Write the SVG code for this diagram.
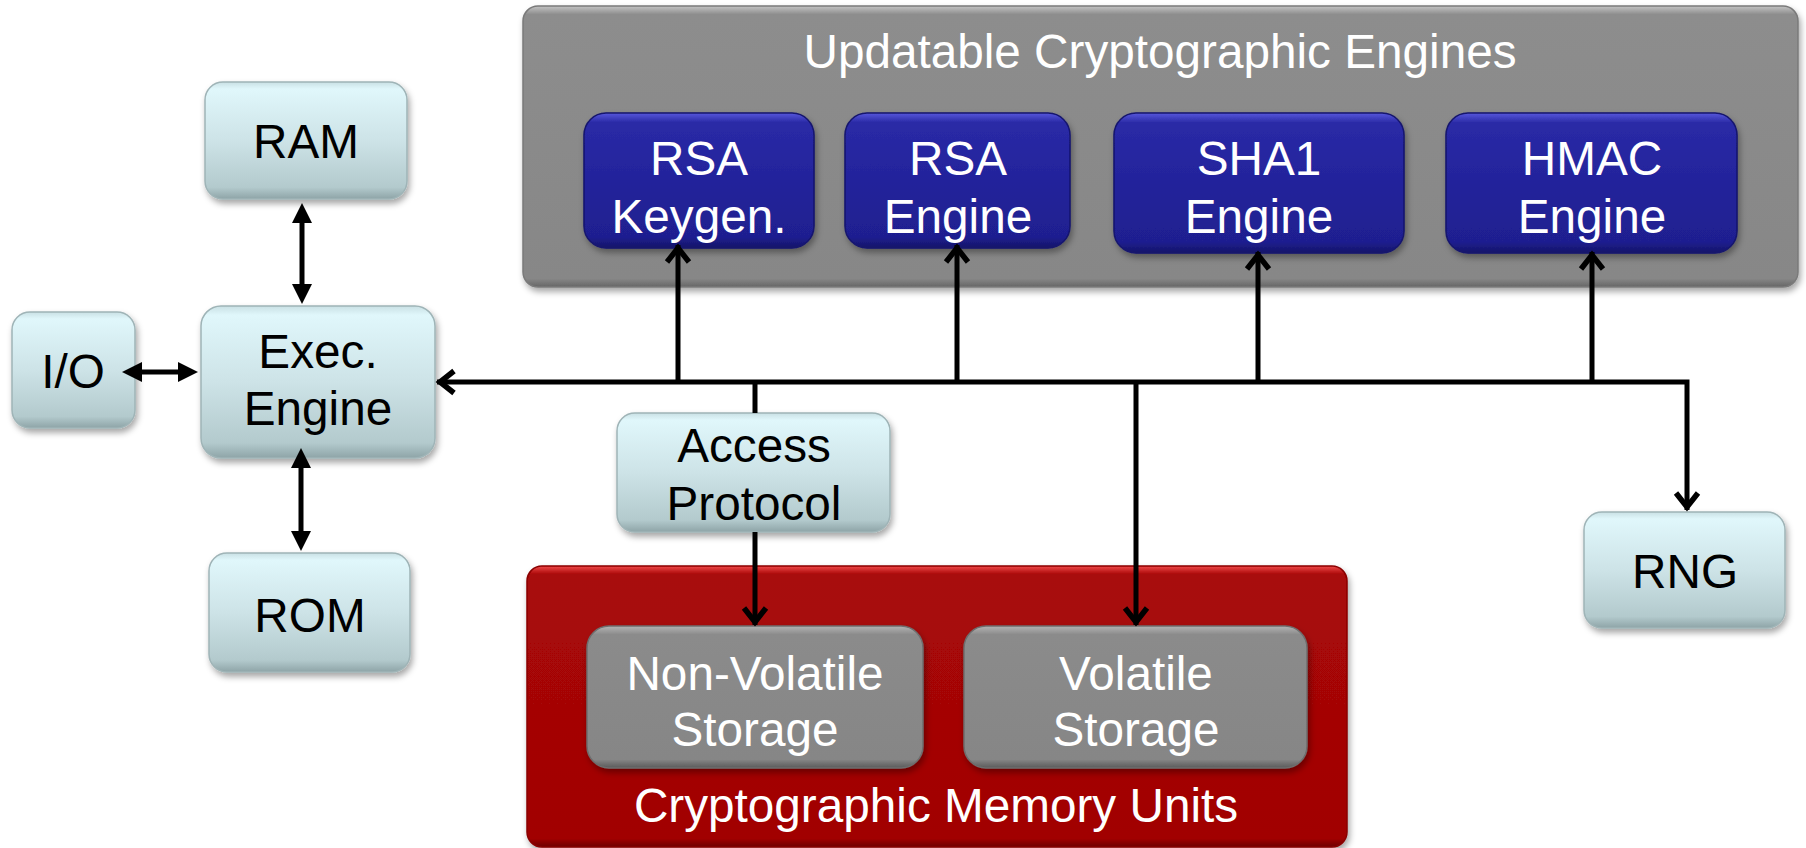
<svg xmlns="http://www.w3.org/2000/svg" width="1806" height="848" viewBox="0 0 1806 848">
<defs>
  <linearGradient id="gBlue" x1="0" y1="0" x2="0" y2="1">
    <stop offset="0" stop-color="#c9e0e4"/>
    <stop offset="0.06" stop-color="#e0f7fb"/>
    <stop offset="0.5" stop-color="#cde3e7"/>
    <stop offset="0.9" stop-color="#b3cacd"/>
    <stop offset="1" stop-color="#8ea4a7"/>
  </linearGradient>
  <linearGradient id="gNavy" x1="0" y1="0" x2="0" y2="1">
    <stop offset="0" stop-color="#5858dc"/>
    <stop offset="0.07" stop-color="#2a2aa6"/>
    <stop offset="0.5" stop-color="#23239b"/>
    <stop offset="0.92" stop-color="#1f1f90"/>
    <stop offset="1" stop-color="#141468"/>
  </linearGradient>
  <linearGradient id="gGray" x1="0" y1="0" x2="0" y2="1">
    <stop offset="0" stop-color="#c4c4c4"/>
    <stop offset="0.03" stop-color="#8d8d8d"/>
    <stop offset="0.97" stop-color="#878787"/>
    <stop offset="1" stop-color="#666666"/>
  </linearGradient>
  <linearGradient id="gStore" x1="0" y1="0" x2="0" y2="1">
    <stop offset="0" stop-color="#b4b4b4"/>
    <stop offset="0.06" stop-color="#8b8b8b"/>
    <stop offset="0.94" stop-color="#868686"/>
    <stop offset="1" stop-color="#5a5a5a"/>
  </linearGradient>
  <linearGradient id="gRed" x1="0" y1="0" x2="0" y2="1">
    <stop offset="0" stop-color="#f04a4a"/>
    <stop offset="0.03" stop-color="#a80808"/>
    <stop offset="0.97" stop-color="#a10404"/>
    <stop offset="1" stop-color="#6c0000"/>
  </linearGradient>
  <filter id="shadow" x="-10%" y="-10%" width="120%" height="130%">
    <feDropShadow dx="2" dy="4" stdDeviation="3" flood-color="#000" flood-opacity="0.35"/>
  </filter>
  <marker id="tri" markerUnits="userSpaceOnUse" viewBox="0 0 20 20" markerWidth="20" markerHeight="20" refX="12" refY="10" orient="auto-start-reverse">
    <path d="M0,0 L20,10 L0,20 z" fill="#000"/>
  </marker>
  <marker id="chev" markerUnits="userSpaceOnUse" viewBox="-20 -16 40 32" markerWidth="40" markerHeight="32" refX="0" refY="0" orient="auto-start-reverse" overflow="visible">
    <path d="M-17,-11 L-3,0 L-17,11" fill="none" stroke="#000" stroke-width="5.5" stroke-linejoin="miter"/>
  </marker>
  <style>
    .lb { fill: url(#gBlue); stroke: #9fb4b7; stroke-width: 1.5; filter: url(#shadow); }
    .nv { fill: url(#gNavy); stroke: #16166e; stroke-width: 1.5; filter: url(#shadow); }
    .gc { fill: url(#gGray); stroke: #7a7a7a; stroke-width: 1.5; filter: url(#shadow); }
    .st { fill: url(#gStore); stroke: #6e6e6e; stroke-width: 1.5; filter: url(#shadow); }
    .rc { fill: url(#gRed); stroke: #8a0000; stroke-width: 1.5; filter: url(#shadow); }
    text { font-family: "Liberation Sans", Arial, sans-serif; font-size: 47.7px; text-anchor: middle; }
    .dk { fill: #000; }
    .wt { fill: #fff; }
    .ln { fill: none; stroke: #000; stroke-width: 5; stroke-linejoin: miter; }
  </style>
</defs>
<rect width="1806" height="848" fill="#fff"/>

<g id="engines-container">
  <rect class="gc" x="523" y="6" width="1275" height="281" rx="15"/>
  <text class="wt" x="1160" y="68">Updatable Cryptographic Engines</text>
</g>
<g id="rsa-keygen">
  <rect class="nv" x="584" y="113" width="230" height="135" rx="22"/>
  <text class="wt" x="699" y="175">RSA</text>
  <text class="wt" x="699" y="233">Keygen.</text>
</g>
<g id="rsa-engine">
  <rect class="nv" x="845" y="113" width="225" height="135" rx="22"/>
  <text class="wt" x="958" y="175">RSA</text>
  <text class="wt" x="958" y="233">Engine</text>
</g>
<g id="sha1-engine">
  <rect class="nv" x="1114" y="113" width="290" height="140" rx="22"/>
  <text class="wt" x="1259" y="175">SHA1</text>
  <text class="wt" x="1259" y="233">Engine</text>
</g>
<g id="hmac-engine">
  <rect class="nv" x="1446" y="113" width="291" height="140" rx="22"/>
  <text class="wt" x="1592" y="175">HMAC</text>
  <text class="wt" x="1592" y="233">Engine</text>
</g>

<g id="memory-container">
  <rect class="rc" x="527" y="566" width="820" height="281" rx="15"/>
  <text class="wt" x="936" y="822">Cryptographic Memory Units</text>
</g>
<g id="nonvolatile-storage">
  <rect class="st" x="587" y="626" width="336" height="142" rx="22"/>
  <text class="wt" x="755" y="690">Non-Volatile</text>
  <text class="wt" x="755" y="746">Storage</text>
</g>
<g id="volatile-storage">
  <rect class="st" x="964" y="626" width="343" height="142" rx="22"/>
  <text class="wt" x="1136" y="690">Volatile</text>
  <text class="wt" x="1136" y="746">Storage</text>
</g>

<g id="ram">
  <rect class="lb" x="205" y="82" width="202" height="117" rx="18"/>
  <text class="dk" x="306" y="158">RAM</text>
</g>
<g id="exec-engine">
  <rect class="lb" x="201" y="306" width="234" height="152" rx="20"/>
  <text class="dk" x="318" y="368">Exec.</text>
  <text class="dk" x="318" y="425">Engine</text>
</g>
<g id="io">
  <rect class="lb" x="12" y="312" width="123" height="116" rx="18"/>
  <text class="dk" x="73" y="388">I/O</text>
</g>
<g id="rom">
  <rect class="lb" x="209" y="553" width="201" height="119" rx="18"/>
  <text class="dk" x="310" y="632">ROM</text>
</g>
<g id="access-protocol">
  <rect class="lb" x="617" y="413" width="273" height="119" rx="18"/>
  <text class="dk" x="754" y="462">Access</text>
  <text class="dk" x="754" y="520">Protocol</text>
</g>
<g id="rng">
  <rect class="lb" x="1584" y="512" width="201" height="116" rx="18"/>
  <text class="dk" x="1685" y="588">RNG</text>
</g>

<g id="connectors">
  <line class="ln" x1="302" y1="211" x2="302" y2="296" marker-start="url(#tri)" marker-end="url(#tri)"/>
  <line class="ln" x1="130" y1="372" x2="190" y2="372" marker-start="url(#tri)" marker-end="url(#tri)"/>
  <line class="ln" x1="301" y1="456" x2="301" y2="543" marker-start="url(#tri)" marker-end="url(#tri)"/>
  <path class="ln" d="M437,382 H1687 V510" marker-start="url(#chev)" marker-end="url(#chev)"/>
  <path class="ln" d="M678,382 V245" marker-end="url(#chev)"/>
  <path class="ln" d="M957,382 V245" marker-end="url(#chev)"/>
  <path class="ln" d="M1258,382 V252" marker-end="url(#chev)"/>
  <path class="ln" d="M1592,382 V252" marker-end="url(#chev)"/>
  <path class="ln" d="M755,382 V413"/>
  <path class="ln" d="M755,532 V625" marker-end="url(#chev)"/>
  <path class="ln" d="M1136,382 V625" marker-end="url(#chev)"/>
</g>
</svg>
